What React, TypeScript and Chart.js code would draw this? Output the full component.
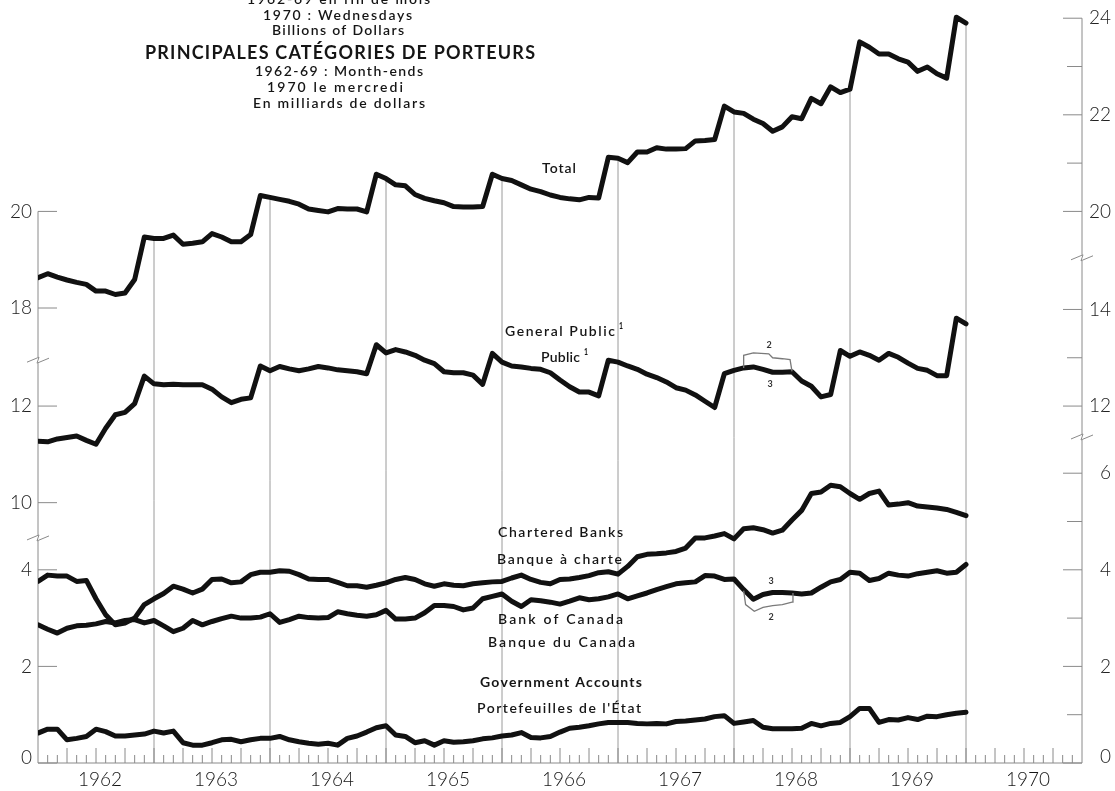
import React, { useEffect, useRef } from 'react';
import { Chart, registerables } from 'chart.js';

Chart.register(...registerables);

// x index: 0 = month-end Dec 1961, 96 = Dec 1969; axis spans to 108 (end of 1970)
const YEARS = ['1962', '1963', '1964', '1965', '1966', '1967', '1968', '1969', '1970'];

const TOTAL = [
  18.63, 18.71, 18.64, 18.58, 18.53, 18.49, 18.35, 18.35, 18.28, 18.31, 18.59, 19.47,
  19.44, 19.44, 19.51, 19.32, 19.34, 19.37, 19.54, 19.47, 19.37, 19.37, 19.52, 20.33,
  20.29, 20.25, 20.21, 20.15, 20.05, 20.02, 19.99, 20.06, 20.05, 20.05, 19.99, 20.77,
  20.68, 20.55, 20.53, 20.35, 20.27, 20.22, 20.18, 20.10, 20.09, 20.09, 20.10, 20.77,
  20.68, 20.64, 20.55, 20.46, 20.41, 20.34, 20.29, 20.26, 20.24, 20.29, 20.28, 21.12,
  21.10, 21.01, 21.23, 21.23, 21.32, 21.29, 21.29, 21.30, 21.46, 21.47, 21.49, 22.18,
  22.06, 22.03, 21.91, 21.82, 21.66, 21.75, 21.96, 21.92, 22.34, 22.23, 22.58, 22.46,
  22.53, 23.51, 23.40, 23.26, 23.26, 23.16, 23.09, 22.90, 22.99, 22.85, 22.76, 24.02,
  23.90,
];

const GENERAL_PUBLIC = [
  11.27, 11.26, 11.32, 11.35, 11.38, 11.29, 11.21, 11.54, 11.82, 11.87, 12.05, 12.62,
  12.46, 12.44, 12.45, 12.44, 12.44, 12.44, 12.35, 12.19, 12.07, 12.14, 12.17, 12.83,
  12.73, 12.82, 12.77, 12.73, 12.77, 12.82, 12.79, 12.75, 12.73, 12.71, 12.67, 13.27,
  13.10, 13.17, 13.12, 13.05, 12.95, 12.88, 12.71, 12.69, 12.69, 12.64, 12.45, 13.09,
  12.91, 12.83, 12.81, 12.78, 12.76, 12.69, 12.54, 12.40, 12.29, 12.29, 12.21, 12.95,
  12.91, 12.83, 12.76, 12.66, 12.59, 12.50, 12.38, 12.33, 12.23, 12.10, 11.97, 12.67,
  12.74, 12.79, 12.81, 12.76, 12.70, 12.70, 12.71, 12.52, 12.41, 12.19, 12.24, 13.15,
  13.03, 13.12, 13.05, 12.95, 13.09, 13.01, 12.89, 12.78, 12.74, 12.63, 12.63, 13.82,
  13.70,
];

const CHARTERED_BANKS = [
  3.76, 3.89, 3.87, 3.87, 3.76, 3.78, 3.40, 3.07, 2.86, 2.90, 3.00, 3.28,
  3.40, 3.51, 3.66, 3.60, 3.52, 3.60, 3.80, 3.81, 3.73, 3.75, 3.90, 3.95,
  3.95, 3.98, 3.97, 3.90, 3.81, 3.80, 3.80, 3.74, 3.67, 3.67, 3.64, 3.68,
  3.73, 3.80, 3.84, 3.80, 3.71, 3.66, 3.71, 3.68, 3.67, 3.71, 3.73, 3.75,
  3.76, 3.83, 3.89, 3.80, 3.74, 3.71, 3.80, 3.81, 3.84, 3.88, 3.94, 3.96,
  3.91, 4.07, 4.27, 4.32, 4.33, 4.35, 4.38, 4.45, 4.66, 4.66, 4.70, 4.75,
  4.64, 4.85, 4.87, 4.83, 4.76, 4.82, 5.03, 5.23, 5.58, 5.61, 5.75, 5.72,
  5.58, 5.46, 5.58, 5.63, 5.34, 5.36, 5.39, 5.32, 5.30, 5.28, 5.25, 5.19,
  5.12,
];

const BANK_OF_CANADA = [
  2.86, 2.77, 2.69, 2.79, 2.84, 2.85, 2.88, 2.93, 2.90, 2.95, 2.97, 2.90,
  2.95, 2.84, 2.72, 2.79, 2.95, 2.86, 2.93, 2.99, 3.04, 3.00, 3.00, 3.02,
  3.09, 2.91, 2.97, 3.04, 3.01, 3.00, 3.01, 3.13, 3.09, 3.06, 3.04, 3.07,
  3.16, 2.98, 2.98, 3.00, 3.11, 3.26, 3.26, 3.24, 3.17, 3.21, 3.40, 3.45,
  3.50, 3.35, 3.24, 3.38, 3.36, 3.33, 3.29, 3.35, 3.42, 3.38, 3.40, 3.44,
  3.50, 3.40, 3.46, 3.52, 3.59, 3.65, 3.71, 3.73, 3.75, 3.88, 3.87, 3.80,
  3.81, 3.59, 3.39, 3.49, 3.53, 3.53, 3.52, 3.50, 3.52, 3.64, 3.75, 3.80,
  3.95, 3.93, 3.78, 3.82, 3.93, 3.89, 3.87, 3.92, 3.95, 3.98, 3.93, 3.95,
  4.11,
];

const GOVERNMENT_ACCOUNTS = [
  0.62, 0.70, 0.70, 0.48, 0.51, 0.55, 0.70, 0.65, 0.56, 0.56, 0.58, 0.60,
  0.66, 0.62, 0.66, 0.42, 0.37, 0.37, 0.42, 0.48, 0.49, 0.44, 0.48, 0.51,
  0.51, 0.55, 0.48, 0.44, 0.41, 0.39, 0.41, 0.37, 0.51, 0.56, 0.64, 0.73,
  0.77, 0.58, 0.55, 0.42, 0.46, 0.37, 0.46, 0.43, 0.44, 0.46, 0.50, 0.52,
  0.56, 0.58, 0.63, 0.53, 0.52, 0.55, 0.64, 0.72, 0.74, 0.77, 0.81, 0.84,
  0.84, 0.84, 0.82, 0.81, 0.82, 0.81, 0.86, 0.87, 0.89, 0.91, 0.96, 0.98,
  0.82, 0.85, 0.88, 0.74, 0.71, 0.71, 0.71, 0.72, 0.82, 0.77, 0.82, 0.84,
  0.96, 1.13, 1.13, 0.84, 0.90, 0.89, 0.94, 0.90, 0.97, 0.96, 1.00, 1.03,
  1.05,
];

// alternative (footnote 2) paths, thin lines
const PUBLIC_ALT_X = [73, 73, 74, 75.6, 76, 77, 77.8, 78];
const PUBLIC_ALT_Y = [12.79, 13.05, 13.1, 13.08, 13.0, 12.98, 12.96, 12.72];
const BOC_ALT_X = [73, 73.2, 74.1, 75, 76, 77, 78, 78.1];
const BOC_ALT_Y = [3.57, 3.28, 3.14, 3.22, 3.26, 3.28, 3.33, 3.52];

const LEFT_TOP_TICKS = [20, 18];
const LEFT_MID_TICKS = [12, 10];
const LEFT_LOW_TICKS = [4, 2, 0];
const RIGHT_TOP_TICKS = [24, 22, 20];
const RIGHT_TOP_MINOR = [23, 21];
const RIGHT_MID_TICKS = [14, 12];
const RIGHT_MID_MINOR = [13];
const RIGHT_LOW_TICKS = [6, 4, 2, 0];
const RIGHT_LOW_MINOR = [5, 3, 1];

// broken-axis segments mapped onto one plotting scale
const OFF_MID = 4.61;
const OFF_TOP = 8.58;
const topV = (v: number) => v - OFF_TOP;
const midV = (v: number) => v - OFF_MID;
const lowV = (v: number) => v;

const FONT = 'Lato, "Open Sans", "DejaVu Sans", sans-serif';

function fitText(ctx: any, text: string, x0: number, x1: number, cy: number, size: number, weight: string) {
  ctx.save();
  ctx.font = `${weight} ${size}px ${FONT}`;
  ctx.letterSpacing = '0px';
  ctx.textAlign = 'left';
  ctx.textBaseline = 'alphabetic';
  ctx.fillStyle = '#151515';
  const w = ctx.measureText(text).width;
  const target = x1 - x0;
  const n = Array.from(text).length;
  const base = cy + size * 0.34;
  if (w <= target) {
    const ls = n > 1 ? (target - w) / (n - 1) : 0;
    ctx.letterSpacing = `${ls}px`;
    ctx.fillText(text, x0, base);
  } else {
    ctx.translate(x0, base);
    ctx.scale(target / w, 1);
    ctx.fillText(text, 0, 0);
  }
  ctx.restore();
}

export default function App() {
  const ref = useRef<HTMLCanvasElement>(null);

  useEffect(() => {
    const canvas = ref.current;
    if (!canvas) return;

    const series = (arr: number[], f: (v: number) => number) => arr.map((v, i) => ({ x: i, y: f(v) }));
    const alt = (xs: number[], ys: number[], f: (v: number) => number) => xs.map((x, i) => ({ x, y: f(ys[i]) }));

    const thick = (data: any[]) => ({
      data,
      borderColor: '#111',
      borderWidth: 5,
      pointRadius: 0,
      tension: 0,
      fill: false,
      borderCapStyle: 'round',
      borderJoinStyle: 'round',
    });
    const thin = (data: any[]) => ({
      data,
      borderColor: '#7a7a7a',
      borderWidth: 1.3,
      pointRadius: 0,
      tension: 0,
      fill: false,
    });

    const decor = {
      id: 'decor',
      beforeDraw(chart: any) {
        const ctx = chart.ctx;
        ctx.save();
        ctx.fillStyle = '#fff';
        ctx.fillRect(0, 0, chart.width, chart.height);
        ctx.restore();
      },
      beforeDatasetsDraw(chart: any) {
        const ctx = chart.ctx;
        const xs = chart.scales.x;
        const ys = chart.scales.y;
        const px = (v: number) => xs.getPixelForValue(v);
        const py = (v: number) => ys.getPixelForValue(v);
        const y0 = py(0);
        const xL = px(0);
        const xR = px(108);

        ctx.save();
        ctx.strokeStyle = '#8a8a8a';
        ctx.lineWidth = 1;

        const seg = (x: number, a: number, b: number) => {
          ctx.beginPath();
          ctx.moveTo(x, a);
          ctx.lineTo(x, b);
          ctx.stroke();
        };
        const brk = (x: number, y: number) => {
          ctx.beginPath();
          ctx.moveTo(x - 11, y + 2);
          ctx.lineTo(x + 1, y - 3);
          ctx.lineTo(x - 1, y + 3);
          ctx.lineTo(x + 11, y - 2);
          ctx.stroke();
        };

        // drop lines at each December from the Total curve
        ctx.strokeStyle = '#9a9a9a';
        for (let i = 12; i < TOTAL.length; i += 12) {
          seg(px(i), py(topV(TOTAL[i])), y0);
        }

        ctx.strokeStyle = '#8a8a8a';
        // baseline
        ctx.beginPath();
        ctx.moveTo(xL, y0);
        ctx.lineTo(xR, y0);
        ctx.stroke();
        // month ticks
        for (let i = 1; i < 108; i++) {
          const len = i % 3 === 0 ? 15 : 8;
          seg(px(i), y0, y0 - len);
        }

        // left axis with breaks
        const lb1 = py(8.34);
        const lb2 = py(4.66);
        seg(xL, py(topV(20)), lb1 - 3);
        seg(xL, lb1 + 3, lb2 - 3);
        seg(xL, lb2 + 3, y0);
        brk(xL, lb1);
        brk(xL, lb2);

        // right axis with breaks
        const rb1 = py(10.46);
        const rb2 = py(6.75);
        seg(xR, py(topV(24)), rb1 - 3);
        seg(xR, rb1 + 3, rb2 - 3);
        seg(xR, rb2 + 3, y0);
        brk(xR, rb1);
        brk(xR, rb2);

        const hTick = (x1: number, x2: number, y: number) => {
          ctx.beginPath();
          ctx.moveTo(x1, y);
          ctx.lineTo(x2, y);
          ctx.stroke();
        };

        ctx.fillStyle = '#222';
        ctx.font = `300 19px ${FONT}`;
        ctx.textBaseline = 'middle';

        const leftTicks: [number, number][] = [
          ...LEFT_TOP_TICKS.map((v) => [v, topV(v)] as [number, number]),
          ...LEFT_MID_TICKS.map((v) => [v, midV(v)] as [number, number]),
          ...LEFT_LOW_TICKS.map((v) => [v, lowV(v)] as [number, number]),
        ];
        ctx.textAlign = 'right';
        leftTicks.forEach(([label, vy]) => {
          const y = py(vy);
          hTick(xL, xL + 19, y);
          ctx.fillText(String(label), 32, y - (label === 0 ? 5 : 0));
        });

        const rightTicks: [number, number][] = [
          ...RIGHT_TOP_TICKS.map((v) => [v, topV(v)] as [number, number]),
          ...RIGHT_MID_TICKS.map((v) => [v, midV(v)] as [number, number]),
          ...RIGHT_LOW_TICKS.map((v) => [v, lowV(v)] as [number, number]),
        ];
        rightTicks.forEach(([label, vy]) => {
          const y = py(vy);
          hTick(xR - 19, xR, y);
          ctx.fillText(String(label), 1111, y - (label === 0 ? 6 : 0));
        });
        const minor = [
          ...RIGHT_TOP_MINOR.map(topV),
          ...RIGHT_MID_MINOR.map(midV),
          ...RIGHT_LOW_MINOR.map(lowV),
        ];
        minor.forEach((vy) => hTick(xR - 15, xR, py(vy)));

        ctx.restore();
      },
      afterDatasetsDraw(chart: any) {
        const ctx = chart.ctx;
        const xs = chart.scales.x;
        const px = (v: number) => xs.getPixelForValue(v);

        // year labels
        YEARS.forEach((yr, k) => {
          const c = (px(k * 12) + px(k * 12 + 12)) / 2 + 4;
          fitText(ctx, yr, c - 22, c + 22, 779, 20, '300');
        });

        // title block
        fitText(ctx, '1962-69 en fin de mois', 247, 430, -1, 14, '600');
        fitText(ctx, '1970 : Wednesdays', 263, 412, 15, 14, '600');
        fitText(ctx, 'Billions of Dollars', 272, 404, 30.5, 14, '600');
        fitText(ctx, 'PRINCIPALES CATÉGORIES DE PORTEURS', 145, 535, 53, 18, '700');
        fitText(ctx, '1962-69 : Month-ends', 255, 423, 71.5, 14, '600');
        fitText(ctx, '1970 le mercredi', 267, 403, 87.3, 14, '600');
        fitText(ctx, 'En milliards de dollars', 253, 425, 103.3, 14, '600');

        // series labels
        fitText(ctx, 'Total', 542, 576, 168, 14, '600');
        fitText(ctx, 'General Public', 505, 615, 331.7, 14, '600');
        fitText(ctx, '1', 619, 623, 326, 9, '700');
        fitText(ctx, 'Public', 541, 580, 357.3, 14, '600');
        fitText(ctx, '1', 584, 588, 352, 9, '700');
        fitText(ctx, 'Chartered Banks', 498, 623, 532.3, 14, '600');
        fitText(ctx, 'Banque à charte', 497, 622, 559.3, 14, '600');
        fitText(ctx, 'Bank of Canada', 498, 623, 619.3, 14, '600');
        fitText(ctx, 'Banque du Canada', 488, 635, 642.7, 14, '600');
        fitText(ctx, 'Government Accounts', 480, 642, 682.3, 14, '700');
        fitText(ctx, "Portefeuilles de l'État", 477, 641, 708.7, 14, '600');

        // footnote markers
        ctx.save();
        ctx.fillStyle = '#333';
        ctx.font = `700 9px ${FONT}`;
        ctx.textAlign = 'center';
        ctx.textBaseline = 'middle';
        ctx.fillText('2', 769, 345);
        ctx.fillText('3', 770, 384);
        ctx.fillText('3', 771, 581);
        ctx.fillText('2', 771, 617);
        ctx.restore();
      },
    };

    const chart = new Chart(canvas, {
      type: 'line',
      data: {
        datasets: [
          thin(alt(PUBLIC_ALT_X, PUBLIC_ALT_Y, midV)),
          thin(alt(BOC_ALT_X, BOC_ALT_Y, lowV)),
          thick(series(TOTAL, topV)),
          thick(series(GENERAL_PUBLIC, midV)),
          thick(series(CHARTERED_BANKS, lowV)),
          thick(series(BANK_OF_CANADA, lowV)),
          thick(series(GOVERNMENT_ACCOUNTS, lowV)),
        ] as any,
      },
      options: {
        responsive: false,
        animation: false,
        devicePixelRatio: 1,
        events: [],
        layout: { padding: { left: 38, right: 33, top: 0, bottom: 28 } },
        scales: {
          x: { type: 'linear', min: 0, max: 108, display: false },
          y: { type: 'linear', min: 0, max: 763 / 48.3, display: false },
        },
        plugins: {
          legend: { display: false },
          tooltip: { enabled: false },
        },
      } as any,
      plugins: [decor],
    });

    return () => chart.destroy();
  }, []);

  return (
    <div style={{ position: 'fixed', left: 0, top: 0, width: 1115, height: 791, background: '#fff' }}>
      <canvas ref={ref} width={1115} height={791} style={{ width: 1115, height: 791, display: 'block' }} />
    </div>
  );
}
